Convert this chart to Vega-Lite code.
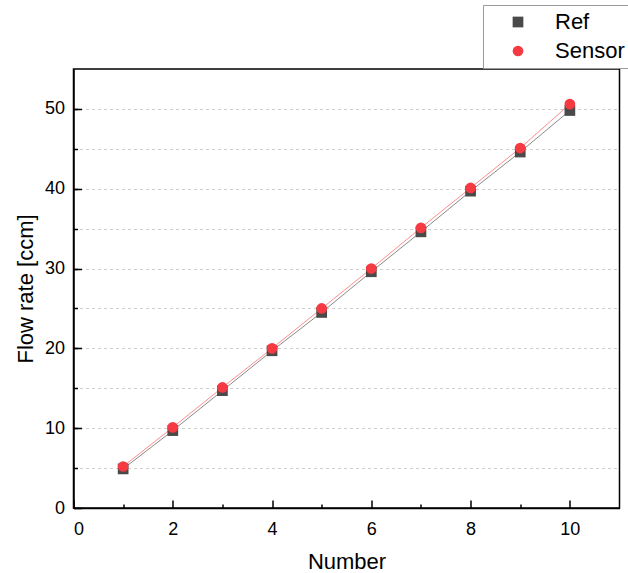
{
  "$schema": "https://vega.github.io/schema/vega-lite/v6.json",
  "width": 546,
  "height": 439,
  "autosize": {"type": "none"},
  "padding": {"left": 73.5, "top": 69, "right": 8, "bottom": 65},
  "background": "white",
  "config": {
    "font": "Liberation Sans",
    "view": {"stroke": "black", "strokeWidth": 1.5},
    "axis": {"domainColor": "black", "domainWidth": 1.5, "tickColor": "black", "tickWidth": 1.5, "labelColor": "black", "titleColor": "black", "labelFont": "Liberation Sans", "titleFont": "Liberation Sans", "titleFontWeight": "normal"},
    "legend": {"labelFont": "Liberation Sans"}
  },
  "data": {
    "values": [
      {"n": 1, "v": 4.9, "s": "Ref"},
      {"n": 2, "v": 9.7, "s": "Ref"},
      {"n": 3, "v": 14.7, "s": "Ref"},
      {"n": 4, "v": 19.7, "s": "Ref"},
      {"n": 5, "v": 24.5, "s": "Ref"},
      {"n": 6, "v": 29.6, "s": "Ref"},
      {"n": 7, "v": 34.6, "s": "Ref"},
      {"n": 8, "v": 39.7, "s": "Ref"},
      {"n": 9, "v": 44.6, "s": "Ref"},
      {"n": 10, "v": 49.8, "s": "Ref"},
      {"n": 1, "v": 5.2, "s": "Sensor"},
      {"n": 2, "v": 10.1, "s": "Sensor"},
      {"n": 3, "v": 15.1, "s": "Sensor"},
      {"n": 4, "v": 20.0, "s": "Sensor"},
      {"n": 5, "v": 25.0, "s": "Sensor"},
      {"n": 6, "v": 30.0, "s": "Sensor"},
      {"n": 7, "v": 35.1, "s": "Sensor"},
      {"n": 8, "v": 40.1, "s": "Sensor"},
      {"n": 9, "v": 45.1, "s": "Sensor"},
      {"n": 10, "v": 50.6, "s": "Sensor"}
    ]
  },
  "resolve": {"axis": {"x": "independent", "y": "independent"}},
  "layer": [
    {
      "mark": {"type": "line", "strokeWidth": 1},
      "encoding": {
        "x": {"field": "n", "type": "quantitative", "scale": {"domain": [0, 11], "nice": false, "zero": false},
          "axis": {"orient": "bottom", "values": [0, 2, 4, 6, 8, 10], "grid": false, "tickSize": -8, "labelPadding": 20, "labelFontSize": 18, "title": "Number", "titleFontSize": 22, "titlePadding": 13}},
        "y": {"field": "v", "type": "quantitative", "scale": {"domain": [0, 55], "nice": false, "zero": false},
          "axis": {"orient": "left", "values": [0, 10, 20, 30, 40, 50], "grid": false, "tickSize": -8, "labelPadding": 17, "labelFontSize": 18, "title": "Flow rate [ccm]", "titleFontSize": 22, "titlePadding": 7}},
        "stroke": {"condition": {"test": "datum.s === 'Ref'", "value": "#8a8a8a"}, "value": "#ff8c8c"},
        "detail": {"field": "s", "type": "nominal"}
      }
    },
    {
      "mark": {"type": "point", "filled": true, "opacity": 1, "size": 115},
      "encoding": {
        "x": {"field": "n", "type": "quantitative",
          "axis": {"orient": "bottom", "values": [1, 3, 5, 7, 9], "grid": false, "tickSize": -4, "labels": false, "domain": false, "title": null}},
        "y": {"field": "v", "type": "quantitative",
          "axis": {"orient": "left", "values": [5, 10, 15, 20, 25, 30, 35, 40, 45, 50], "grid": true, "gridColor": "#cfcfcf", "gridDash": [3, 3], "gridWidth": 1, "tickSize": -4, "labels": false, "domain": false, "title": null}},
        "color": {"field": "s", "type": "nominal", "scale": {"domain": ["Ref", "Sensor"], "range": ["#4a4a4a", "#f53a42"]},
          "legend": {"title": null, "orient": "none", "legendX": 409.5, "legendY": -64, "labelFontSize": 22, "labelColor": "black", "strokeColor": "#9a9a9a", "fillColor": "white", "padding": 6, "symbolSize": 115, "symbolOffset": 18, "labelOffset": 26, "rowPadding": 7, "symbolOpacity": 1}},
        "shape": {"field": "s", "type": "nominal", "scale": {"domain": ["Ref", "Sensor"], "range": ["square", "circle"]},
          "legend": {"title": null, "orient": "none", "legendX": 409.5, "legendY": -64, "labelFontSize": 22, "labelColor": "black", "strokeColor": "#9a9a9a", "fillColor": "white", "padding": 6, "symbolSize": 115, "symbolOffset": 18, "labelOffset": 26, "rowPadding": 7, "symbolOpacity": 1}}
      }
    }
  ]
}
